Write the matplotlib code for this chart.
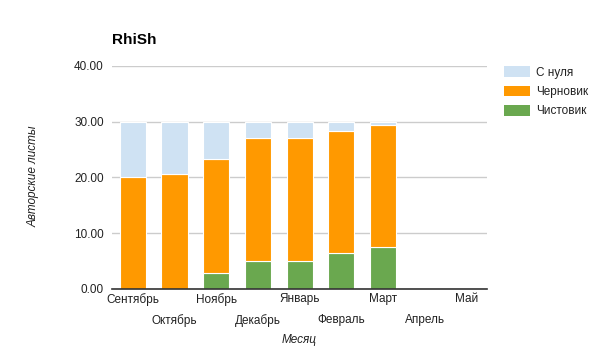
import numpy as np
import matplotlib as mpl
import matplotlib.pyplot as plt
from matplotlib.patches import Patch

mpl.rcParams['font.family'] = ['Liberation Sans', 'DejaVu Sans']

months = ['Сентябрь', 'Октябрь', 'Ноябрь', 'Декабрь', 'Январь', 'Февраль', 'Март', 'Апрель', 'Май']
clean = [0.0, 0.0, 2.8, 5.1, 5.1, 6.4, 7.5, 0.0, 0.0]      # Чистовик
draft = [20.0, 20.6, 20.5, 21.9, 21.9, 21.9, 21.9, 0.0, 0.0]  # Черновик
scratch = [10.0, 9.4, 6.7, 3.0, 3.0, 1.7, 0.6, 0.0, 0.0]    # С нуля
yticks = [0, 10, 20, 30, 40]

c_clean = '#6aa84f'
c_draft = '#ff9900'
c_scratch = '#cfe2f3'
txt = '#222222'
fs = 8.5

fig = plt.figure(figsize=(5.91, 3.52), dpi=100)
ax = fig.add_axes([0.1895, 0.179, 0.635, 0.634])

x = np.arange(len(months))
w = 0.63
clean_a = np.array(clean)
draft_a = np.array(draft)
scratch_a = np.array(scratch)
ax.bar(x, clean_a, w, color=c_clean, edgecolor='white', linewidth=0.8, zorder=3)
ax.bar(x, draft_a, w, bottom=clean_a, color=c_draft, edgecolor='white', linewidth=0.8, zorder=3)
ax.bar(x, scratch_a, w, bottom=clean_a + draft_a, color=c_scratch, edgecolor='white', linewidth=0.8, zorder=3)

ax.set_xlim(-0.5, len(months) - 0.5)
ax.set_ylim(0, 40)
ax.set_yticks(yticks)
ax.set_yticklabels(['{:.2f}'.format(v) for v in yticks])
ax.yaxis.grid(True, color='#cccccc', linewidth=1, zorder=0)
ax.set_axisbelow(True)
for s in ['top', 'right', 'left']:
  ax.spines[s].set_visible(False)
ax.spines['bottom'].set_color('#333333')
ax.spines['bottom'].set_linewidth(1.2)
ax.spines['bottom'].set_zorder(4)
ax.tick_params(axis='both', length=0, labelsize=fs, colors=txt, pad=6)

ax.set_xticks(x)
ax.set_xticklabels([])
for i, m in enumerate(months):
  off = -4 if i % 2 == 0 else -25
  ax.annotate(m, (i, 0), xycoords='data', xytext=(0, off), textcoords='offset pixels',
              ha='center', va='top', fontsize=fs, color=txt)

fig.text(0.19, 0.885, 'RhiSh', fontsize=11, fontweight='bold', color='#000000', ha='left', va='center')
fig.text(0.056, 0.5, 'Авторские листы', rotation=90, style='italic', fontsize=fs,
         color=txt, ha='center', va='center')
fig.text(0.506, 0.034, 'Месяц', style='italic', fontsize=fs, color=txt, ha='center', va='center')

handles = [Patch(facecolor=c_scratch, label='С нуля'),
           Patch(facecolor=c_draft, label='Черновик'),
           Patch(facecolor=c_clean, label='Чистовик')]
fig.legend(handles=handles, loc='upper left', bbox_to_anchor=(0.835, 0.842), frameon=False,
           fontsize=fs, handlelength=2.2, handleheight=1.0, labelspacing=0.6, handletextpad=0.5,
           labelcolor=txt)

fig.savefig('out.png', dpi=100)
